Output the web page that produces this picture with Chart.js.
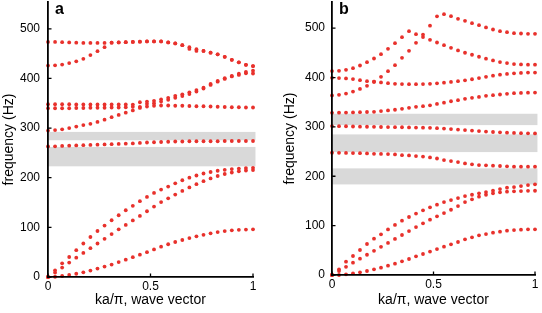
<!DOCTYPE html>
<html lang="en">
<head>
  <meta charset="UTF-8">
  <title>Dispersion curves</title>
  <script src="https://cdn.jsdelivr.net/npm/chart.js"></script>
  <style>
    html, body { margin: 0; padding: 0; background: #fff; }
    #wrap { position: relative; width: 542px; height: 313px; overflow: hidden; }
    canvas { position: absolute; top: 0; }
    #chartA { left: 0; }
    #chartB { left: 271px; }
    .tag {
      position: absolute;
      top: 1px;
      font: bold 16px 'Liberation Sans', Arial, sans-serif;
      line-height: 16px;
      color: #000;
    }
  </style>
</head>
<body>
  <div id="wrap">
    <canvas id="chartA" width="271" height="313"></canvas>
    <canvas id="chartB" width="271" height="313"></canvas>
    <div class="tag" style="left:55px">a</div>
    <div class="tag" style="left:339px">b</div>
  </div>

  <script>
    // wave vector samples (ka/pi)
    const kGrid = [0, 0.0345, 0.069, 0.1034, 0.1379, 0.1724, 0.2069, 0.2414, 0.2759, 0.3103,
                   0.3448, 0.3793, 0.4138, 0.4483, 0.4828, 0.5172, 0.5517, 0.5862, 0.6207, 0.6552,
                   0.6897, 0.7241, 0.7586, 0.7931, 0.8276, 0.8621, 0.8966, 0.931, 0.9655, 1];

    // panel a, frequencies (Hz)
    const aBand1 = [0, 0.5, 2, 4, 6.5, 9.5, 13, 17, 21, 25, 30, 35, 40, 45, 50, 55.5, 61, 66, 70.5, 74.5, 78.5, 82, 85, 88, 90.5, 92.5, 94, 95, 95.5, 96];
    const aBand2 = [0, 9, 19, 29, 39, 48.5, 58, 67.5, 77, 86.5, 96, 105, 114, 123, 132.5, 141.8, 151, 158.5, 166, 173.5, 180.5, 187, 193, 198.5, 203.5, 207.5, 210.5, 213, 214.5, 215.5];
    const aBand3 = [0, 13.4, 27.5, 40.3, 54, 67.5, 80.6, 92.7, 103.5, 114.3, 124.4, 134.5, 143.3, 152.7, 161.4, 169.4, 176.1, 182.1, 188.8, 194.9, 200, 204.5, 208.5, 211.5, 214, 216, 217.5, 218.5, 219.5, 220];
    const aBand4 = [263, 263.3, 264, 264.5, 265, 265.5, 266, 266.5, 267, 267.5, 268, 268.5, 269, 270, 271, 271.5, 272, 272.5, 273, 273, 273.5, 273.5, 273.5, 273.5, 273.5, 274, 274, 274, 274, 274];
    const aBand5 = [295, 296, 297.5, 300, 303, 306, 308.5, 312.5, 317, 322, 326.5, 331, 335.5, 340.7, 343.5, 345, 345.5, 345.5, 345, 345, 344.5, 344, 344, 343.5, 343, 342.5, 342, 342, 341.5, 341.5];
    const aBand6 = [340, 340, 340, 340, 340.5, 340.5, 341, 341, 341, 341.5, 341.5, 342, 342.8, 342.8, 348.8, 350, 353.5, 357, 361, 364.5, 368.5, 373.5, 379.5, 387, 393.5, 399, 404, 407, 410.5, 410];
    const aBand7 = [348, 348, 348, 348, 347.5, 347.5, 347.5, 347.5, 347.5, 347.5, 347.5, 347.5, 347.4, 352, 353.5, 355, 358, 361, 365, 368, 372, 376.5, 381.5, 389, 395, 400.5, 405, 409.5, 413, 415.5];
    const aBand8 = [426, 426.5, 428, 431, 434.5, 439.5, 447, 455, 463, 472, 472.5, 473, 473.5, 474, 474.5, 474.5, 474.5, 472.5, 470.5, 467, 459.5, 455.5, 455.5, 452, 448.5, 443.5, 437.5, 432.5, 427.5, 425];
    const aBand9 = [473.5, 473.5, 473, 472.5, 472, 471.5, 471.5, 471.5, 471.5, 472, 472.5, 473, 473.5, 474, 474.5, 474.5, 474.5, 472.5, 470.5, 467, 463, 459, 455.5, 452, 448.5, 443.5, 437.5, 432.5, 427.5, 425];

    // panel b, frequencies (Hz)
    const bBand1 = [0, 0, 1.4, 3.4, 5.4, 8.1, 11.5, 14.8, 18.8, 22.9, 27.7, 32.4, 37.8, 42.5, 47.5, 52.6, 57.4, 62.1, 66.8, 72.3, 76.3, 80.3, 83, 85.7, 87.7, 89.7, 91.1, 91.8, 92.5, 92.5];
    const bBand2 = [0, 8, 16.5, 25, 33, 41, 49, 57, 65, 73, 81, 89, 97, 104.6, 112, 118.8, 125.5, 132.2, 139.6, 147.8, 153.2, 158.6, 162.6, 165.4, 167.4, 168.7, 169.4, 170, 170.5, 170.7];
    const bBand3 = [0, 11.5, 26.9, 38.5, 50.6, 62.8, 73.5, 82.3, 92.4, 101.5, 110, 117.5, 124.5, 131, 137, 142.4, 147.8, 151.8, 155.9, 159.9, 162.6, 165.4, 168, 170.7, 174.1, 176.8, 178.2, 180.2, 182.2, 183.6];
    const bBand4 = [247.6, 247.5, 247.3, 246.9, 246.7, 246.2, 245.5, 245.3, 244.9, 244.2, 242.8, 242.2, 240.8, 239.8, 238.2, 236, 232.8, 230.8, 228.8, 226.1, 224.1, 222.7, 222.1, 221.4, 220.8, 220.1, 219.4, 219.4, 219.4, 219.4];
    const bBand5 = [301.6, 301.4, 301.3, 300.8, 300.5, 300.3, 300.2, 299.8, 299.6, 299.5, 299.3, 299, 298.7, 298.5, 298.2, 297.5, 296.6, 295.5, 294.5, 293.5, 292.5, 291.5, 290.5, 289.7, 289, 288.3, 287.7, 287.2, 287, 286.8];
    const bBand6 = [328.6, 328.8, 329, 329.3, 329.8, 330.2, 330.6, 332, 333.3, 334.7, 336.7, 338.7, 340.7, 342, 343.8, 346.5, 349, 352, 354.2, 356.8, 358.8, 360.8, 362.9, 364.2, 365.6, 366.9, 368.3, 368.9, 369.3, 369.6];
    const bBand7 = [399.4, 398.8, 398.1, 396.8, 394.7, 392.7, 391.5, 390, 388.5, 387.3, 386.8, 386.6, 386.6, 386.8, 387.3, 388.2, 389.6, 391, 392.6, 394.3, 396.5, 399, 401.5, 403.8, 405.8, 407.3, 408.6, 409.4, 410, 410.1];
    const bBand8 = [363.7, 365, 367.6, 371.6, 377, 383.1, 391.5, 401.4, 412.9, 425, 439.9, 454.1, 470.3, 487, 505, 524, 528.3, 524.3, 519, 514.9, 510.1, 506.1, 501.4, 497.3, 493.9, 491.9, 489.9, 489.2, 488.5, 488.5];
    const bBand9 = [413, 413.6, 415.6, 419, 424.4, 431.2, 438.6, 447.3, 458.2, 469.6, 481.8, 493.9, 487.9, 482, 476.4, 471, 465.6, 460.2, 454.9, 450.2, 446.1, 442.1, 438.1, 434.7, 431.3, 429.3, 427.3, 426.6, 426, 426];

    // band gaps (Hz), shaded grey
    const aGaps = [[223, 262], [275.5, 292.3]];
    const bGaps = [[183.5, 216], [249, 284.8], [303.6, 326.6]];
    const gapEnd = 1.012;

    const xTicks = [0, 0.5, 1];
    const yTicks = [0, 100, 200, 300, 400, 500];

    const RED = '#e8312c';
    const FONT = "'Liberation Sans', Arial, Helvetica, sans-serif";

    const gapPlugin = {
      id: 'gaps',
      beforeDatasetsDraw(chart, args, opts) {
        const { ctx, scales: { x, y } } = chart;
        ctx.save();
        ctx.fillStyle = '#d9d9d9';
        opts.bands.forEach(([lo, hi]) => {
          const x0 = x.getPixelForValue(0);
          const x1 = x.getPixelForValue(gapEnd);
          const y0 = y.getPixelForValue(hi);
          const y1 = y.getPixelForValue(lo);
          ctx.fillRect(x0, y0, x1 - x0, y1 - y0);
        });
        ctx.restore();
      }
    };

    // matlab style ticks pointing into the plot
    const inwardTicks = {
      id: 'inwardTicks',
      afterDraw(chart) {
        const { ctx, chartArea: a, scales: { x, y } } = chart;
        ctx.save();
        ctx.strokeStyle = '#000';
        ctx.lineWidth = 1.3;
        ctx.beginPath();
        x.ticks.forEach(t => {
          const px = x.getPixelForValue(t.value);
          ctx.moveTo(px, a.bottom);
          ctx.lineTo(px, a.bottom - 3.5);
        });
        y.ticks.forEach(t => {
          const py = y.getPixelForValue(t.value);
          ctx.moveTo(a.left, py);
          ctx.lineTo(a.left + 3.5, py);
        });
        ctx.stroke();
        ctx.restore();
      }
    };

    function makePanel(id, bands, gaps, box) {
      const datasets = bands.map(vals => ({
        data: vals.map((f, i) => ({ x: kGrid[i], y: f })),
        backgroundColor: RED,
        pointRadius: 1.9,
        pointBorderWidth: 0,
        clip: false
      }));

      return new Chart(document.getElementById(id), {
        type: 'scatter',
        data: { datasets },
        options: {
          responsive: false,
          animation: false,
          events: [],
          layout: { autoPadding: false, padding: { left: 0, top: box.top, right: box.right, bottom: 0 } },
          plugins: {
            legend: { display: false },
            tooltip: { enabled: false },
            gaps: { bands: gaps }
          },
          scales: {
            x: {
              type: 'linear',
              min: 0,
              max: 1,
              afterBuildTicks: s => { s.ticks = xTicks.map(v => ({ value: v })); },
              afterFit: s => { s.height = box.xh; s.paddingLeft = 0; s.paddingRight = 0; },
              grid: { display: false, drawTicks: false },
              border: { display: true, color: '#000', width: 1.8, z: 1 },
              ticks: { color: '#000', padding: 2, maxRotation: 0, font: { family: FONT, size: 12 }, callback: v => String(v) },
              title: { display: true, text: 'ka/π, wave vector', color: '#000', font: { family: FONT, size: 14 }, padding: { top: 0, bottom: 4.6 } }
            },
            y: {
              type: 'linear',
              min: 0,
              max: box.ymax,
              afterBuildTicks: s => { s.ticks = yTicks.map(v => ({ value: v })); },
              afterFit: s => { s.width = box.yw; s.paddingTop = 0; s.paddingBottom = 0; },
              grid: { display: false, drawTicks: false },
              border: { display: true, color: '#000', width: 1.8, z: 1 },
              ticks: { color: '#000', padding: box.yTickPad, font: { family: FONT, size: 12 }, callback: v => String(v) },
              title: { display: true, text: 'frequency (Hz)', color: '#000', font: { family: FONT, size: 14 }, padding: { top: box.yTitlePad, bottom: 0 } }
            }
          }
        },
        plugins: [gapPlugin, inwardTicks]
      });
    }

    makePanel('chartA',
      [aBand1, aBand2, aBand3, aBand4, aBand5, aBand6, aBand7, aBand8, aBand9],
      aGaps,
      { top: 2, right: 18, xh: 36, yw: 48, ymax: 554, yTickPad: 8, yTitlePad: 0.6 });

    makePanel('chartB',
      [bBand1, bBand2, bBand3, bBand4, bBand5, bBand6, bBand7, bBand8, bBand9],
      bGaps,
      { top: 2, right: 7, xh: 38, yw: 61, ymax: 553, yTickPad: 7, yTitlePad: 10.6 });
  </script>
</body>
</html>
